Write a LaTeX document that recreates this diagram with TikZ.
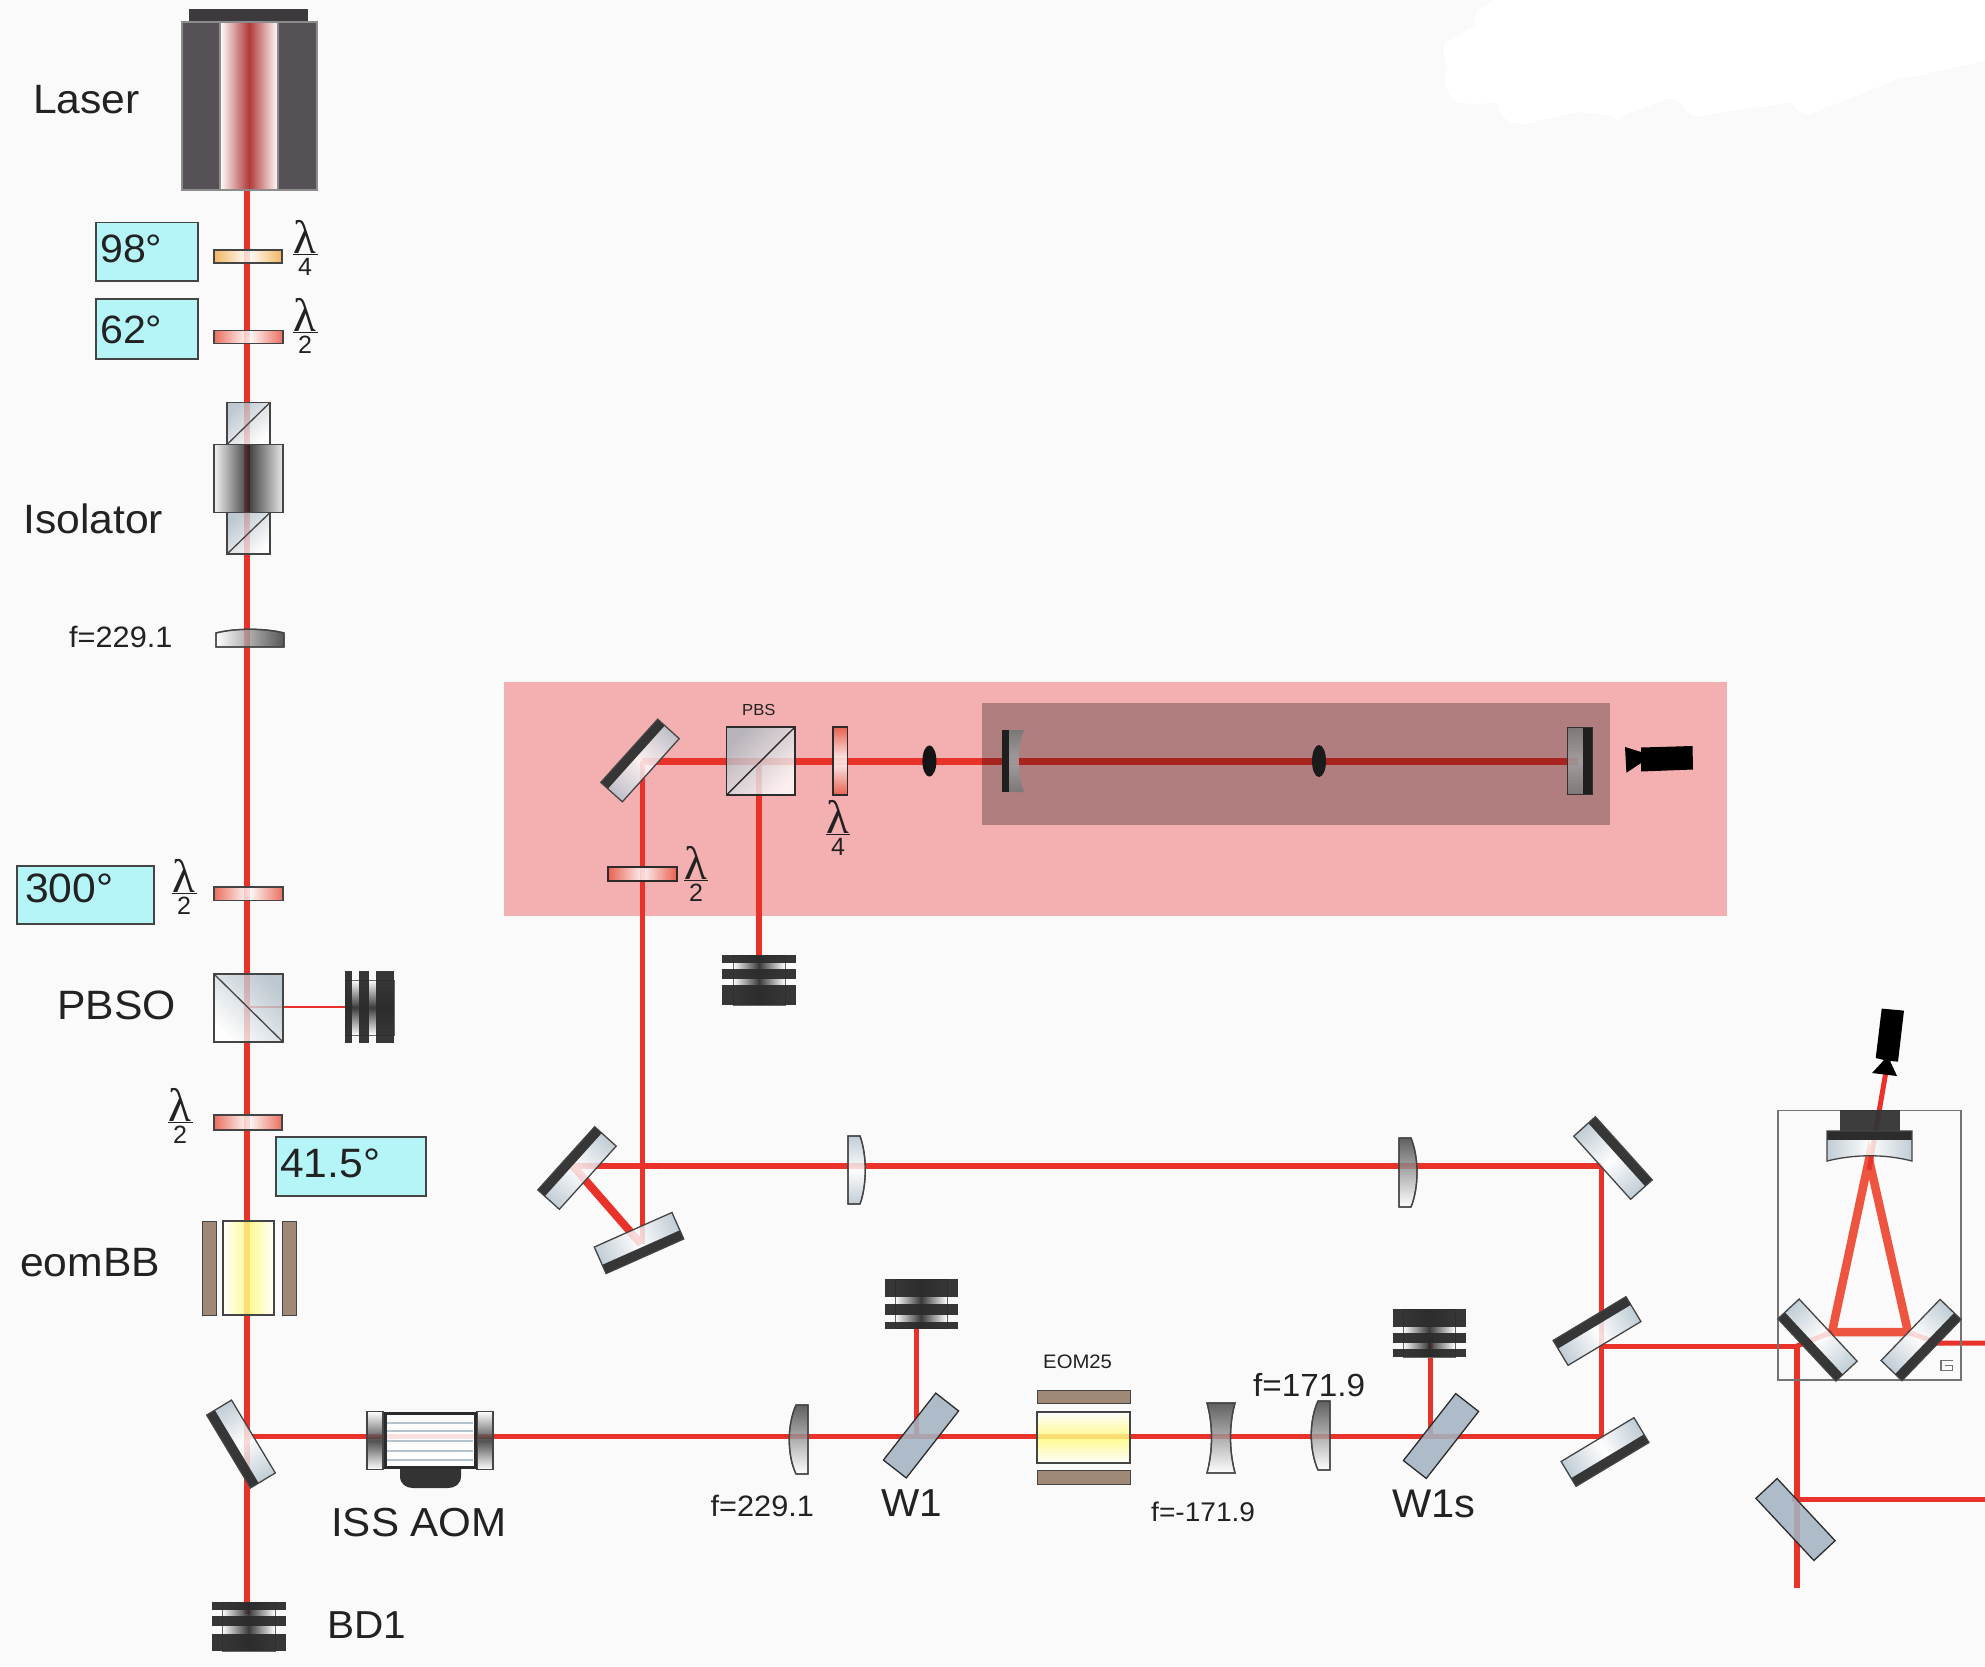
\documentclass[tikz,border=0pt]{standalone}
\usepackage{fontspec}
\setmainfont{Liberation Sans}
\newfontfamily\lamfont{Liberation Serif}
\definecolor{pagebg}{HTML}{FAFAFA}
\definecolor{ink}{HTML}{222222}
\definecolor{beamred}{HTML}{E9332A}
\definecolor{cavred}{HTML}{EE5540}
\definecolor{boxcyan}{HTML}{B5F5F8}
\definecolor{edgegray}{HTML}{444444}
\definecolor{glass}{HTML}{B4C3CE}
\definecolor{band}{HTML}{2C2C2C}
\definecolor{wedge}{HTML}{A3B4C2}
\definecolor{brownel}{HTML}{A08876}
\definecolor{pinkbg}{HTML}{F4B0B0}
\definecolor{platered}{HTML}{E8503C}
\definecolor{plateora}{HTML}{F0A840}
\definecolor{laserbody}{HTML}{565156}
\definecolor{lasercap}{HTML}{3C3A3C}
\definecolor{laserred}{HTML}{B03A38}
\definecolor{yellowc}{HTML}{FFFB7A}
\tikzset{
  lbl/.style={anchor=base west,inner sep=0pt,text=ink},
  beamline/.style={draw=beamred,line width=#1},
  beamline/.default=5.5pt,
  cavline/.style={draw=cavred,line width=8.5pt},
  comp/.style={draw=edgegray,line width=1.3pt,fill opacity=.82},
  anglebox/.style={draw=edgegray,line width=1.3pt,fill=boxcyan},
  electrode/.style={draw=edgegray,line width=1pt,fill=brownel},
  darklens/.style={comp,top color=black!75,bottom color=white},
  dumpbar/.style={fill=band,fill opacity=.95},
  camshape/.style={fill=black},
}
% text label: name, x, baseline y, size, text
\newcommand\lbltxt[5]{\node[lbl,xscale=1.04,font=\fontsize{#4}{#4}\selectfont] (#1) at (#2,#3) {#5};}
% lambda fraction: name, x, bar y, half width, digit
\newcommand\lamfrac[5]{%
  \node[inner sep=0pt,anchor=base,text=ink,font=\lamfont\fontsize{47}{47}\selectfont] (#1l) at (#2,#3-1) {λ};
  \draw[ink,line width=1pt] (#2-#4,#3)--(#2+#4,#3);
  \node[inner sep=0pt,anchor=north,text=ink,font=\fontsize{25}{25}\selectfont] (#1d) at (#2,#3+4) {#5};}
% angled mirror with dark band on the local lower side
\newcommand\mirrorpart[3]{\begin{scope}[transform canvas={shift={(#1,#2)},rotate=#3}]
  \shade[fill opacity=.82,left color=glass,right color=glass,middle color=white] (-42.5,-14.5) rectangle (42.5,14.5);
  \fill[band,fill opacity=.94] (-42.5,5) rectangle (42.5,14.5);
  \draw[edgegray,line width=1.3pt] (-42.5,-14.5) rectangle (42.5,14.5);
\end{scope}}
% plain wedge plate
\newcommand\wedgepart[3]{\begin{scope}[transform canvas={shift={(#1,#2)},rotate=#3}]
  \filldraw[fill=wedge,draw=band,line width=1.3pt,fill opacity=.88] (-42.5,-14.5) rectangle (42.5,14.5);
\end{scope}}
% cube: x1 y1 x2 y2 angle
\newcommand\cubepart[5]{%
  \shade[comp,fill opacity=.8,top color=glass!90!gray,bottom color=white,shading angle=#5] (#1,#2) rectangle (#3,#4);
  \draw[edgegray,line width=1.3pt] (#1,#2) rectangle (#3,#4);}
% beam dump, horizontal slabs: x1 x2 ix1 ix2 ytop ybottom bars
\newcommand\dumpH[7]{%
  \shade[fill opacity=.9,left color=white,right color=white,middle color=black!85] (#3,#5) rectangle (#4,#6);
  \draw[black!60,line width=.8pt] (#3,#5) rectangle (#4,#6);
  \foreach \ya/\yb in {#7} {\fill[dumpbar] (#1,\ya) rectangle (#2,\yb);}}
% beam dump, vertical slabs
\newcommand\dumpV[7]{%
  \shade[fill opacity=.9,top color=white,bottom color=white,middle color=black!85] (#3,#5) rectangle (#4,#6);
  \draw[black!60,line width=.8pt] (#3,#5) rectangle (#4,#6);
  \foreach \xa/\xb in {#7} {\fill[dumpbar] (\xa,#1) rectangle (\xb,#2);}}
\begin{document}
\begin{tikzpicture}[x=1pt,y=-1pt]
\useasboundingbox (0,0) rectangle (1985,1666);
\fill[pagebg] (0,0) rectangle (1985,1666);
% white patch
\fill[white] (1497,0) .. controls (1480,6) and (1472,12) .. (1476,25) -- (1447,42)
  .. controls (1442,50) and (1443,60) .. (1448.5,68) .. controls (1443,75) and (1442,90) .. (1456,102)
  .. controls (1470,105) and (1485,104) .. (1497,102) .. controls (1499,118) and (1510,124) .. (1523,124)
  -- (1579,112) -- (1609,115) -- (1618,120) -- (1624,115) -- (1670,98) -- (1683,105)
  .. controls (1688,114) and (1692,116) .. (1698,116) -- (1792,102) .. controls (1795,110) and (1802,114) .. (1810,114)
  -- (1896,80) -- (1985,61) -- (1985,0) -- cycle;
% pink table
\fill[pinkbg] (504,682) rectangle (1727,916);

% beam vertices
\coordinate (bLaser) at (247,190);
\coordinate (bDump) at (247,1614);
\coordinate (bPbso) at (247,1007);
\coordinate (bPbsoD) at (353,1007);
\coordinate (bFold) at (247,1436);
\coordinate (bCorner1) at (1601.5,1436);
\coordinate (bCorner2) at (1601.5,1166);
\coordinate (bMa) at (573,1166);
\coordinate (bMb) at (641,1244);
\coordinate (bUp) at (642.4,1244);
\coordinate (bUpT) at (642.4,761);
\coordinate (bCavEnd) at (1578,761);
\coordinate (bPbs) at (759,761);
\coordinate (bPbsD) at (759,957);
\coordinate (bW) at (916,1436);
\coordinate (bWD) at (916,1328);
\coordinate (bWs) at (1430,1436);
\coordinate (bWsD) at (1430,1337);
\coordinate (bI) at (1601.5,1346);
\coordinate (bK) at (1797,1346);
\coordinate (bEnd) at (1797,1588);
\coordinate (bN) at (1792,1499.5);
\coordinate (bNr) at (1985,1499.5);
\coordinate (tA) at (1869,1159.5);
\coordinate (tL) at (1832,1332);
\coordinate (tR) at (1908,1332);
\coordinate (tO) at (1937,1343);
\coordinate (tOr) at (1985,1343);
\coordinate (camA) at (1869,1170);
\coordinate (camB) at (1885.7,1073);

% beams
\draw[beamline] (bLaser) -- (bDump);
\draw[beamline=2.5pt] (bPbso) -- (bPbsoD);
\draw[beamline=5pt] (bFold) -- (bCorner1) -- (bCorner2);
\draw[beamline=6pt] (bCorner2) -- (bMa);
\draw[beamline=8pt] (bMa) -- (bMb);
\draw[beamline=5.5pt] (bUp) -- (bUpT);
\draw[beamline=7pt] (bUpT) -- (bCavEnd);
\draw[beamline=6pt] (bPbs) -- (bPbsD);
\draw[beamline=5pt] (bW) -- (bWD);
\draw[beamline=5pt] (bWs) -- (bWsD);
\draw[beamline=5pt] (bI) -- (bK);
\draw[beamline=6pt] (bK) -- (bEnd);
\draw[beamline=4.5pt] (bN) -- (bNr);
\draw[cavline] (tL) -- (tA) -- (tR) -- cycle;
\draw[beamline=5pt] (bK) -- (tL);
\draw[beamline=5pt] (tR) -- (tO) -- (tOr);
\draw[beamline=5pt] (camA) -- (camB);

% laser
\fill[lasercap] (189,9) rectangle (308,22);
\filldraw[fill=laserbody,draw=black!45,line width=1.2pt] (182,22) rectangle (317,190);
\shade[left color=white,right color=white,middle color=laserred] (220,22) rectangle (278,190);
\draw[black!45,line width=1.2pt] (220,22) rectangle (278,190);

% waveplates
\shade[comp,left color=plateora,right color=plateora,middle color=white] (214,250) rectangle (282,263);
\draw[edgegray,line width=1.3pt] (214,250) rectangle (282,263);
\shade[comp,left color=platered,right color=platered,middle color=white] (214,330.5) rectangle (283,343.5);
\draw[edgegray,line width=1.3pt] (214,330.5) rectangle (283,343.5);
\shade[comp,left color=platered,right color=platered,middle color=white] (214,887) rectangle (283,900.5);
\draw[edgegray,line width=1.3pt] (214,887) rectangle (283,900.5);
\shade[comp,left color=platered,right color=platered,middle color=white] (214,1115) rectangle (282,1130);
\draw[edgegray,line width=1.3pt] (214,1115) rectangle (282,1130);
\shade[comp,left color=platered,right color=platered,middle color=white] (608,867) rectangle (677,881);
\draw[band,line width=1.5pt] (608,867) rectangle (677,881);
\shade[comp,top color=platered,bottom color=platered,middle color=white] (833,727) rectangle (847.5,795);
\draw[band,line width=1.5pt] (833,727) rectangle (847.5,795);

% angle boxes
\filldraw[anglebox] (96,222.5) rectangle (198,281);
\filldraw[anglebox] (96,299) rectangle (198,359);
\filldraw[anglebox] (17,866) rectangle (154,924);
\filldraw[anglebox] (276,1137) rectangle (426,1196);

% isolator
\cubepart{227}{402.5}{270}{444.5}{45}
\draw[edgegray,line width=1.3pt] (227,444.5) -- (270,402.5);
\cubepart{227}{512.6}{270}{554}{45}
\draw[edgegray,line width=1.3pt] (227,554) -- (270,512.6);
\shade[fill opacity=.85,left color=white!95!black,right color=white!90!black,middle color=black!88] (214,444.5) rectangle (283,512.6);
\draw[edgegray,line width=1.3pt] (214,444.5) rectangle (283,512.6);

% first lens
\shade[comp,left color=white,right color=black!80] (216,647) -- (216,633) .. controls (235,628) and (265,628) .. (284,633) -- (284,647) -- cycle;
\draw[edgegray,line width=1.3pt] (216,647) -- (216,633) .. controls (235,628) and (265,628) .. (284,633) -- (284,647) -- cycle;

% PBSO
\cubepart{214}{974}{283}{1042}{-45}
\draw[edgegray,line width=1.3pt] (214,974) -- (283,1042);
\dumpV{971}{1043}{345}{394}{980}{1035}{345/352,359/369,376/394}

% eomBB
\filldraw[electrode] (202,1221) rectangle (216,1315);
\filldraw[electrode] (282,1221) rectangle (296,1315);
\shade[fill opacity=.85,left color=white,right color=white,middle color=yellowc] (223,1221) rectangle (274,1315);
\draw[edgegray,line width=1.3pt] (223,1221) rectangle (274,1315);

% mirrors
\mirrorpart{241}{1444}{-59}
\mirrorpart{640}{760.5}{228}
\mirrorpart{577}{1168}{228}
\mirrorpart{639}{1243}{24}
\mirrorpart{1613}{1158}{132}
\mirrorpart{1597}{1331}{211}
\mirrorpart{1605}{1452}{31}
\wedgepart{921}{1435.5}{52}
\wedgepart{1441}{1436}{52}
\wedgepart{1795.5}{1519.5}{-47}

% AOM
\fill[black!80] (400,1469) -- (461,1469) -- (461,1476) .. controls (461,1484) and (455,1488) .. (448,1488) -- (413,1488) .. controls (406,1488) and (400,1484) .. (400,1476) -- cycle;
\shade[fill opacity=.85,top color=white,bottom color=white,middle color=black!80] (367,1411.6) rectangle (383,1469.5);
\shade[fill opacity=.85,top color=white,bottom color=white,middle color=black!80] (477,1411.6) rectangle (493,1469.5);
\draw[edgegray,line width=1.2pt] (367,1411.6) rectangle (383,1469.5);
\draw[edgegray,line width=1.2pt] (477,1411.6) rectangle (493,1469.5);
\filldraw[fill=white,fill opacity=.85,draw=band,line width=3pt] (385,1413) rectangle (475,1467);
\foreach \ys in {1423,1431,1441,1451,1460} {\draw[glass,line width=2.5pt] (387,\ys) -- (473,\ys);}

% BD1 and other dumps
\dumpH{212}{286}{222}{275}{1602}{1651}{1602/1610,1615.5/1626,1634/1651}
\dumpH{722}{796}{733}{785}{955}{1005}{955/963,969/979,985/1005}
\dumpH{884.5}{957.7}{895}{947}{1279}{1328.5}{1279/1297,1304/1315,1322/1328.5}
\dumpH{1393}{1466}{1403}{1455}{1309}{1357}{1309/1327,1333/1343,1349/1357}

% PBS cube
\shade[fill opacity=.8,top color=glass!80!gray,bottom color=white,shading angle=45] (726.5,727) rectangle (795,795);
\draw[band,line width=1.4pt] (726.5,727) rectangle (795,795);
\draw[band,line width=1.4pt] (726.5,795) -- (795,727);

% small lens marks and cavity mirrors
\fill[black!92] (929.4,761) ellipse [x radius=7,y radius=15.6];
\fill[black!85] (1319,761) ellipse [x radius=7,y radius=16];
\fill[band] (1002,730) rectangle (1009,792);
\shade[fill opacity=.9,top color=black!35,bottom color=black!35,middle color=black!12] (1009,730) -- (1024,730) .. controls (1017,750) and (1017,772) .. (1024,792) -- (1009,792) -- cycle;
\shade[fill opacity=.85,top color=black!35,bottom color=black!35,middle color=black!12] (1567.5,727.7) rectangle (1583,794);
\fill[band] (1583,727.7) rectangle (1592,794);
\draw[edgegray,line width=1pt] (1567.5,727.7) rectangle (1592,794);
% dark cavity overlay
\fill[black,fill opacity=.28] (981.5,703) rectangle (1610,825);

% camera in the table
\fill[camshape] (1641,747.5) -- (1692.5,746) -- (1693,769.5) -- (1641,771.5) -- (1641,763) -- (1626.4,772.7) -- (1625,747) -- (1641,752) -- cycle;

% lenses on the lower table
\shade[comp,top color=glass,bottom color=glass,middle color=white] (848,1136) -- (860,1136) .. controls (867,1155) and (867,1185) .. (860,1204) -- (848,1204) -- cycle;
\draw[edgegray,line width=1.3pt] (848,1136) -- (860,1136) .. controls (867,1155) and (867,1185) .. (860,1204) -- (848,1204) -- cycle;
\shade[darklens] (808,1405) -- (796,1405) .. controls (787,1425) and (787,1455) .. (796,1474) -- (808,1474) -- cycle;
\draw[edgegray,line width=1.3pt] (808,1405) -- (796,1405) .. controls (787,1425) and (787,1455) .. (796,1474) -- (808,1474) -- cycle;
\shade[darklens] (1207,1403) -- (1235,1403) .. controls (1229,1425) and (1229,1450) .. (1235,1473) -- (1207,1473) .. controls (1213,1450) and (1213,1425) .. (1207,1403) -- cycle;
\draw[edgegray,line width=1.3pt] (1207,1403) -- (1235,1403) .. controls (1229,1425) and (1229,1450) .. (1235,1473) -- (1207,1473) .. controls (1213,1450) and (1213,1425) .. (1207,1403) -- cycle;
\shade[darklens] (1330,1401) -- (1318,1401) .. controls (1309,1420) and (1309,1450) .. (1318,1470) -- (1330,1470) -- cycle;
\draw[edgegray,line width=1.3pt] (1330,1401) -- (1318,1401) .. controls (1309,1420) and (1309,1450) .. (1318,1470) -- (1330,1470) -- cycle;
\shade[darklens] (1399,1138) -- (1411,1138) .. controls (1419,1158) and (1419,1187) .. (1411,1207) -- (1399,1207) -- cycle;
\draw[edgegray,line width=1.3pt] (1399,1138) -- (1411,1138) .. controls (1419,1158) and (1419,1187) .. (1411,1207) -- (1399,1207) -- cycle;

% EOM25
\filldraw[electrode] (1037,1390) rectangle (1130,1403);
\filldraw[electrode] (1037,1470) rectangle (1130,1484);
\shade[fill opacity=.85,top color=white,bottom color=white,middle color=yellowc] (1037,1412) rectangle (1130,1463);
\draw[edgegray,line width=1.3pt] (1037,1412) rectangle (1130,1463);

% cavity box
\draw[black!55,line width=1.5pt] (1778,1110.6) rectangle (1961,1380);
\fill[black!80,fill opacity=.95] (1840,1110) rectangle (1900,1131);
\fill[band] (1827,1131) rectangle (1912,1140);
\shade[fill opacity=.82,left color=glass,right color=glass,middle color=white] (1827,1140) -- (1912,1140) -- (1912,1161) .. controls (1885,1154) and (1855,1154) .. (1827,1161) -- cycle;
\draw[edgegray,line width=1.3pt] (1827,1131) -- (1912,1131) -- (1912,1161) .. controls (1885,1154) and (1855,1154) .. (1827,1161) -- cycle;
\mirrorpart{1817.5}{1340}{-47}
\mirrorpart{1921}{1340}{46}
\draw[black!55,line width=1.4pt] (1952.7,1360.5) -- (1941,1360.5) -- (1941,1370.5) -- (1952.7,1370.5) -- (1952.7,1365.5) -- (1945,1365.5);
% second camera
\fill[camshape] (1881.7,1008.6) -- (1904,1010.6) -- (1898,1061.6) -- (1890,1061) -- (1897,1076) -- (1872,1073) -- (1884,1060) -- (1875.7,1058) -- cycle;

% labels
\lbltxt{tLaser}{33}{113}{41}{Laser}
\lbltxt{tA}{100}{262}{39.5}{98°}
\lbltxt{tB}{100}{343}{39.5}{62°}
\lbltxt{tIso}{23}{533}{41}{Isolator}
\lbltxt{tFa}{69}{647}{29.5}{f=229.1}
\lbltxt{tC}{25}{902}{41}{300°}
\lbltxt{tPbso}{57}{1019}{41}{PBSO}
\lbltxt{tD}{280}{1177}{41}{41.5°}
\lbltxt{tEom}{20}{1276}{41}{eomBB}
\lbltxt{tIss}{331}{1536}{40.5}{ISS AOM}
\lbltxt{tBd}{327}{1638}{39}{BD1}
\lbltxt{tPbs}{742}{715}{16}{PBS}
\lbltxt{tFb}{710.5}{1516}{29.5}{f=229.1}
\lbltxt{tW}{881}{1516}{39}{W1}
\lbltxt{tEomb}{1043}{1368}{19.5}{EOM25}
\lbltxt{tFc}{1253}{1396}{32}{f=171.9}
\lbltxt{tFd}{1151}{1521}{27}{f=-171.9}
\lbltxt{tWs}{1392}{1517}{40}{W1s}
\lamfrac{fa}{305}{254}{12.5}{4}
\lamfrac{fb}{305}{332}{12.5}{2}
\lamfrac{fc}{184}{893}{12.5}{2}
\lamfrac{fd}{180}{1122}{12.5}{2}
\lamfrac{fe}{838}{834}{12}{4}
\lamfrac{ff}{696}{880}{12}{2}
\end{tikzpicture}
\end{document}
